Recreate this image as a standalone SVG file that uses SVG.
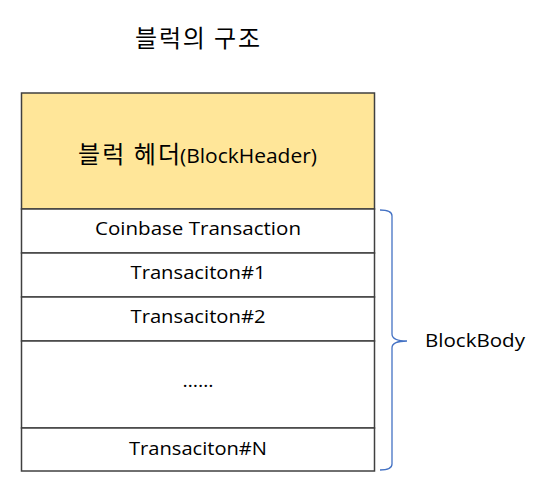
<svg xmlns="http://www.w3.org/2000/svg" width="541" height="500" viewBox="0 0 541 500">
<style>
.t{font-family:"Open Sans","Noto Sans",sans-serif;font-size:19px;fill:#000;text-anchor:middle}
.k{font-family:"Noto Sans CJK KR",sans-serif;fill:#000}
.cell{fill:#fff;stroke:#404040;stroke-width:1.5}
</style>
<rect width="541" height="500" fill="#fff"/>
<text id="title" class="k" x="135" y="47" font-size="24" textLength="125" lengthAdjust="spacing">블럭의 구조</text>
<g id="header"><rect x="21.5" y="93" width="353" height="116" fill="#FFE699" stroke="#404040" stroke-width="1.5"/>
<text class="k" x="78" y="163" font-size="24" textLength="102" lengthAdjust="spacing">블럭 헤더</text>
<text x="180" y="163" font-family="Open Sans,sans-serif" font-size="19.5" textLength="137" lengthAdjust="spacingAndGlyphs">(BlockHeader)</text></g>
<g id="coinbase"><rect class="cell" x="21.5" y="209" width="353" height="44"/><text class="t" x="198" y="235" textLength="206" lengthAdjust="spacingAndGlyphs">Coinbase Transaction</text></g>
<g id="tx1"><rect class="cell" x="21.5" y="253" width="353" height="44"/><text class="t" x="198" y="279" textLength="135" lengthAdjust="spacingAndGlyphs">Transaciton#1</text></g>
<g id="tx2"><rect class="cell" x="21.5" y="297" width="353" height="44"/><text class="t" x="198" y="323" textLength="135" lengthAdjust="spacingAndGlyphs">Transaciton#2</text></g>
<g id="dots"><rect class="cell" x="21.5" y="341" width="353" height="87"/><text class="t" x="198" y="387" textLength="31" lengthAdjust="spacingAndGlyphs">……</text></g>
<g id="txn"><rect class="cell" x="21.5" y="428" width="353" height="43"/><text class="t" x="198" y="455" textLength="138" lengthAdjust="spacingAndGlyphs">Transaciton#N</text></g>
<g id="connectors"><path d="M380 210 Q392 210 392 216 L392 334 Q392 341 407 341 Q392 341 392 348 L392 464 Q392 470 380 470" fill="none" stroke="#4472C4" stroke-width="1.3"/></g>
<g id="body"><text x="425" y="347" font-family="Open Sans,sans-serif" font-size="19" textLength="100" lengthAdjust="spacingAndGlyphs">BlockBody</text></g>
</svg>
